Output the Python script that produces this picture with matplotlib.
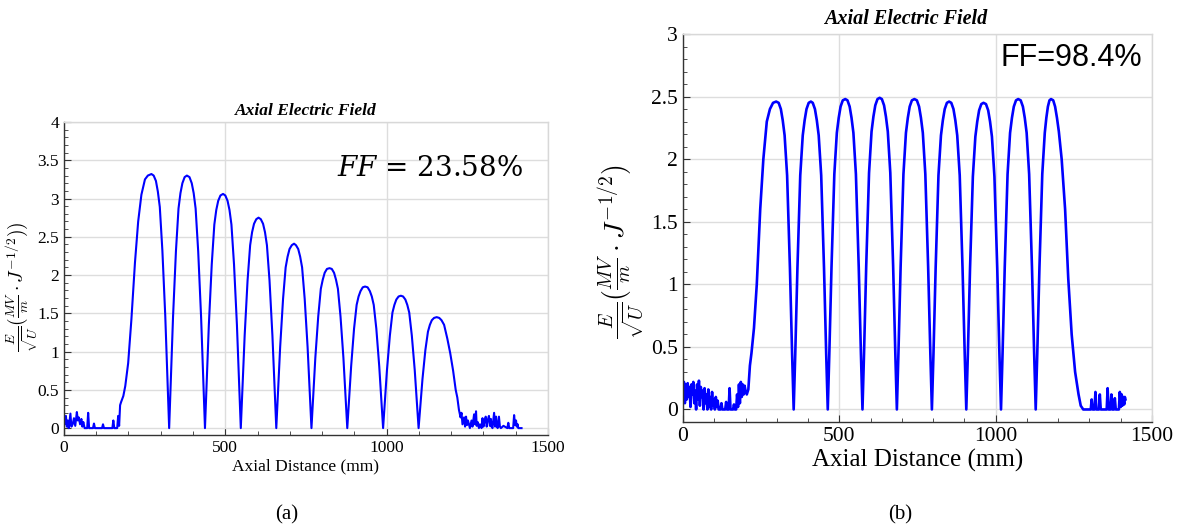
import matplotlib
matplotlib.use("Agg")
import matplotlib.pyplot as plt
from matplotlib.ticker import MultipleLocator

# (a) tapered field, FF = 23.58%  (one row per cell)
xa = [0, 3, 6, 9, 12, 15, 20, 23, 27, 31, 35, 40, 43, 46, 50, 54, 57, 60, 64,
      72, 75, 78, 90, 93, 96, 118, 121, 124, 150, 153, 156, 165, 168, 171,
      174, 177, 184, 190, 199, 209, 220, 230, 240, 251, 260, 271, 278, 285, 291, 297, 305, 314, 321, 326,
      331, 338, 347, 355, 361, 367, 374, 381, 389, 396, 402, 408, 416, 425, 432, 437,
      442, 449, 458, 466, 472, 478, 485, 493, 500, 507, 513, 519, 527, 536, 543, 548,
      553, 560, 569, 577, 583, 589, 596, 603, 610, 617, 623, 629, 637, 646, 653, 658,
      663, 670, 679, 687, 693, 699, 706, 713, 719, 726, 732, 738, 746, 755, 762, 767,
      772, 779, 788, 796, 802, 808, 815, 823, 830, 837, 843, 849, 857, 866, 873, 878,
      883, 890, 899, 907, 913, 919, 926, 933, 941, 948, 954, 960, 968, 977, 984, 989,
      994, 1001, 1010, 1018, 1024, 1030, 1037, 1044, 1051, 1058, 1064, 1070, 1078, 1087, 1094, 1099,
      1104, 1111, 1120, 1128, 1134, 1140, 1147, 1155, 1163, 1170, 1178, 1188, 1197, 1206, 1214, 1219, 1224, 1229,
      1232, 1235, 1240, 1243, 1246, 1249, 1252, 1258, 1263, 1266, 1271, 1274, 1277, 1279, 1282,
      1286, 1289, 1294, 1297, 1300, 1303, 1307, 1310, 1313, 1317, 1320, 1323, 1325, 1328,
      1333, 1336, 1339, 1341, 1344, 1348, 1351, 1354, 1362, 1374, 1377, 1380, 1392, 1395,
      1398, 1401, 1403, 1406, 1408, 1418]
ya = [0.15, 0.05, 0.16, 0.02, 0.10, 0.0, 0.19, 0.02, 0.05, 0.13, 0.03, 0.21, 0.10, 0.14, 0.05, 0.12, 0.02, 0.08, 0.0,
      0.0, 0.20, 0.0, 0.0, 0.06, 0.0, 0.0, 0.05, 0.0, 0.0, 0.10, 0.0, 0.0, 0.16, 0.03,
      0.30, 0.34, 0.42, 0.55, 0.85, 1.42, 2.16, 2.70, 3.05, 3.25, 3.30, 3.32, 3.30, 3.23, 3.09, 2.89, 2.32, 1.46, 0.60, 0.0,
      0.59, 1.45, 2.31, 2.87, 3.07, 3.20, 3.28, 3.30, 3.28, 3.20, 3.07, 2.87, 2.31, 1.45, 0.59, 0.0,
      0.55, 1.35, 2.14, 2.66, 2.85, 2.97, 3.04, 3.06, 3.04, 2.97, 2.85, 2.66, 2.14, 1.35, 0.55, 0.0,
      0.50, 1.21, 1.93, 2.39, 2.56, 2.67, 2.73, 2.75, 2.73, 2.67, 2.56, 2.39, 1.93, 1.21, 0.50, 0.0,
      0.43, 1.06, 1.69, 2.10, 2.24, 2.34, 2.39, 2.41, 2.39, 2.34, 2.24, 2.10, 1.69, 1.06, 0.43, 0.0,
      0.38, 0.92, 1.46, 1.82, 1.94, 2.03, 2.08, 2.09, 2.08, 2.03, 1.94, 1.82, 1.46, 0.92, 0.38, 0.0,
      0.33, 0.81, 1.30, 1.61, 1.72, 1.79, 1.84, 1.85, 1.84, 1.79, 1.72, 1.61, 1.30, 0.81, 0.33, 0.0,
      0.31, 0.76, 1.21, 1.51, 1.61, 1.68, 1.72, 1.73, 1.72, 1.68, 1.61, 1.51, 1.21, 0.76, 0.31, 0.0,
      0.26, 0.64, 1.02, 1.26, 1.35, 1.41, 1.44, 1.45, 1.44, 1.41, 1.35, 1.17, 0.98, 0.75, 0.50, 0.40, 0.24, 0.14,
      0.20, 0.05, 0.14, 0.02, 0.15, 0.04, 0.10, 0.0, 0.10, 0.02, 0.18, 0.05, 0.22, 0.03, 0.08,
      0.0, 0.05, 0.0, 0.13, 0.02, 0.08, 0.15, 0.02, 0.10, 0.16, 0.03, 0.12, 0.02, 0.0,
      0.20, 0.02, 0.15, 0.04, 0.0, 0.15, 0.02, 0.0, 0.03, 0.0, 0.07, 0.0, 0.0, 0.17,
      0.04, 0.10, 0.02, 0.05, 0.0, 0.0]

# (b) flat field, FF = 98.4%
xb = [0, 3, 6, 9, 12, 15, 18, 21, 24, 27, 30, 33, 36, 39, 42, 45, 48, 51, 54, 57, 60,
      63, 66, 69, 72, 75, 78, 81, 84, 87, 90, 93, 96, 99, 102, 105, 108, 111, 114,
      120, 123, 126, 135, 138, 141, 146, 149, 152, 160, 163, 166, 170, 173, 176, 179,
      182, 185, 188, 191, 194, 197, 200,
      204, 209, 214, 219, 227, 236, 247, 257, 268, 278, 288, 298, 306, 313, 319, 325, 333, 342, 349, 354,
      359, 366, 375, 383, 389, 395, 402, 409, 415, 422, 428, 434, 442, 451, 458, 463,
      468, 475, 484, 492, 498, 504, 511, 519, 526, 533, 539, 545, 553, 562, 569, 574,
      579, 586, 595, 603, 609, 615, 622, 629, 636, 643, 649, 655, 663, 672, 679, 684,
      689, 696, 705, 713, 719, 725, 732, 740, 748, 755, 761, 767, 775, 784, 791, 796,
      801, 808, 817, 825, 831, 837, 844, 851, 858, 865, 871, 877, 885, 894, 901, 906,
      911, 918, 927, 935, 941, 947, 954, 961, 969, 976, 982, 988, 996, 1005, 1012, 1017,
      1022, 1029, 1038, 1046, 1052, 1058, 1065, 1072, 1080, 1087, 1093, 1099, 1107, 1116, 1123, 1128,
      1133, 1140, 1149, 1157, 1162, 1167, 1172, 1177, 1184, 1190, 1196, 1202, 1211, 1222, 1232, 1243, 1254, 1265, 1272,
      1280, 1304, 1307, 1310, 1316, 1319, 1322, 1330, 1333, 1336, 1355, 1358, 1361,
      1367, 1370, 1373, 1378, 1381, 1384, 1394, 1397, 1400, 1403, 1405, 1408, 1411, 1413, 1415]
yb = [0.12, 0.22, 0.05, 0.20, 0.08, 0.21, 0.10, 0.18, 0.02, 0.20, 0.12, 0.22, 0.05, 0.15, 0.0, 0.20, 0.08, 0.23, 0.03, 0.18, 0.10,
      0.15, 0.0, 0.17, 0.05, 0.12, 0.0, 0.16, 0.02, 0.10, 0.0, 0.14, 0.03, 0.08, 0.0, 0.10, 0.02, 0.07, 0.0,
      0.0, 0.05, 0.0, 0.0, 0.06, 0.0, 0.0, 0.17, 0.0, 0.0, 0.04, 0.0, 0.0, 0.12, 0.02, 0.20,
      0.05, 0.22, 0.10, 0.20, 0.12, 0.19, 0.15,
      0.12, 0.16, 0.35, 0.45, 0.65, 1.00, 1.60, 2.00, 2.30, 2.40, 2.45, 2.46, 2.45, 2.40, 2.31, 2.19, 1.87, 1.13, 0.44, 0.0,
      0.44, 1.13, 1.87, 2.19, 2.31, 2.40, 2.45, 2.46, 2.45, 2.40, 2.31, 2.19, 1.87, 1.13, 0.44, 0.0,
      0.45, 1.14, 1.88, 2.21, 2.33, 2.42, 2.47, 2.48, 2.47, 2.42, 2.33, 2.21, 1.88, 1.14, 0.45, 0.0,
      0.45, 1.15, 1.89, 2.22, 2.34, 2.43, 2.48, 2.49, 2.48, 2.43, 2.34, 2.22, 1.89, 1.15, 0.45, 0.0,
      0.45, 1.14, 1.88, 2.21, 2.33, 2.42, 2.47, 2.48, 2.47, 2.42, 2.33, 2.21, 1.88, 1.14, 0.45, 0.0,
      0.44, 1.13, 1.87, 2.19, 2.31, 2.40, 2.45, 2.46, 2.45, 2.40, 2.31, 2.19, 1.87, 1.13, 0.44, 0.0,
      0.44, 1.13, 1.86, 2.18, 2.30, 2.39, 2.44, 2.45, 2.44, 2.39, 2.30, 2.18, 1.86, 1.13, 0.44, 0.0,
      0.45, 1.14, 1.88, 2.21, 2.33, 2.42, 2.47, 2.48, 2.47, 2.42, 2.33, 2.21, 1.88, 1.14, 0.45, 0.0,
      0.45, 1.14, 1.88, 2.21, 2.33, 2.42, 2.47, 2.48, 2.47, 2.42, 2.33, 2.22, 2.00, 1.60, 1.05, 0.60, 0.30, 0.12, 0.03,
      0.0, 0.0, 0.08, 0.0, 0.0, 0.14, 0.0, 0.0, 0.12, 0.0, 0.0, 0.17, 0.0,
      0.0, 0.12, 0.0, 0.0, 0.09, 0.0, 0.0, 0.14, 0.02, 0.12, 0.03, 0.10, 0.04, 0.10, 0.08]

xticks = [0, 500, 1000, 1500]
yticks_a = [0, 0.5, 1, 1.5, 2, 2.5, 3, 3.5, 4]
yticks_b = [0, 0.5, 1, 1.5, 2, 2.5, 3]

fig = plt.figure(figsize=(11.8, 5.32), dpi=100)
serif = "Liberation Serif"
plt.rcParams["mathtext.fontset"] = "cm"


def style_axes(ax, yticks, ylim, tsize):
    ax.set_xlim(0, 1500)
    ax.set_ylim(*ylim)
    ax.set_xticks(xticks)
    ax.set_xticklabels([str(t) for t in xticks], fontfamily=serif, fontsize=tsize)
    ax.set_yticks(yticks)
    ax.set_yticklabels([f"{t:g}" for t in yticks], fontfamily=serif, fontsize=tsize)
    ax.xaxis.set_minor_locator(MultipleLocator(100))
    ax.yaxis.set_minor_locator(MultipleLocator(0.1))
    ax.tick_params(which="major", direction="in", length=5, width=0.8, color="#333333")
    ax.tick_params(which="minor", direction="in", length=3, width=0.6, color="#333333")
    ax.tick_params(top=False, right=False, which="both")
    ax.grid(True, which="major", color="#dddddd", linewidth=1.0)
    for s in ["left", "bottom"]:
        ax.spines[s].set_color("#333333")
        ax.spines[s].set_linewidth(1.0)
    for s in ["top", "right"]:
        ax.spines[s].set_color("#d8d8d8")
        ax.spines[s].set_linewidth(1.0)
    ax.set_axisbelow(True)


ylabel_a = r"$\frac{E}{\sqrt{U}}(\frac{MV}{m}\cdot J^{-1/2}))$"
ylabel_b = r"$\frac{E}{\sqrt{U}}(\frac{MV}{m}\cdot J^{-1/2})$"

# left panel
ax1 = fig.add_axes([0.0542, 0.1823, 0.4102, 0.5884])
style_axes(ax1, yticks_a, (-0.09, 4), 12.5)
ax1.plot(xa, ya, color="#0000ff", linewidth=1.5)
ax1.set_title("Axial Electric Field", fontfamily=serif, fontweight="bold",
              fontstyle="italic", fontsize=12.5, pad=5)
ax1.set_xlabel("Axial Distance (mm)", fontfamily=serif, fontsize=12.5, labelpad=2)
ax1.set_ylabel(ylabel_a, fontsize=14, va="center")
ax1.yaxis.set_label_coords(-0.088, 0.473)
ax1.text(0.564, 0.853, r"$FF$ = 23.58%", transform=ax1.transAxes, fontfamily="DejaVu Serif",
         fontsize=20, va="center", ha="left", math_fontfamily="dejavuserif")

# right panel
ax2 = fig.add_axes([0.5788, 0.2068, 0.3975, 0.7293])
style_axes(ax2, yticks_b, (-0.1, 3), 15.5)
ax2.plot(xb, yb, color="#0000ff", linewidth=1.9)
ax2.set_title("Axial Electric Field", fontfamily=serif, fontweight="bold",
              fontstyle="italic", fontsize=14.5, pad=7, x=0.475)
ax2.set_xlabel("Axial Distance (mm)", fontfamily=serif, fontsize=18, labelpad=2)
ax2.set_ylabel(ylabel_b, fontsize=20, va="center")
ax2.yaxis.set_label_coords(-0.13, 0.44)
ax2.text(0.676, 0.938, "FF=98.4%", transform=ax2.transAxes, fontsize=22,
         fontfamily="Liberation Sans", va="center", ha="left")

fig.text(287 / 1180, 1 - 515 / 532, "(a)", fontfamily=serif, fontsize=15, ha="center", va="center")
fig.text(900 / 1180, 1 - 515 / 532, "(b)", fontfamily=serif, fontsize=15, ha="center", va="center")

fig.savefig("out.png", dpi=100)
